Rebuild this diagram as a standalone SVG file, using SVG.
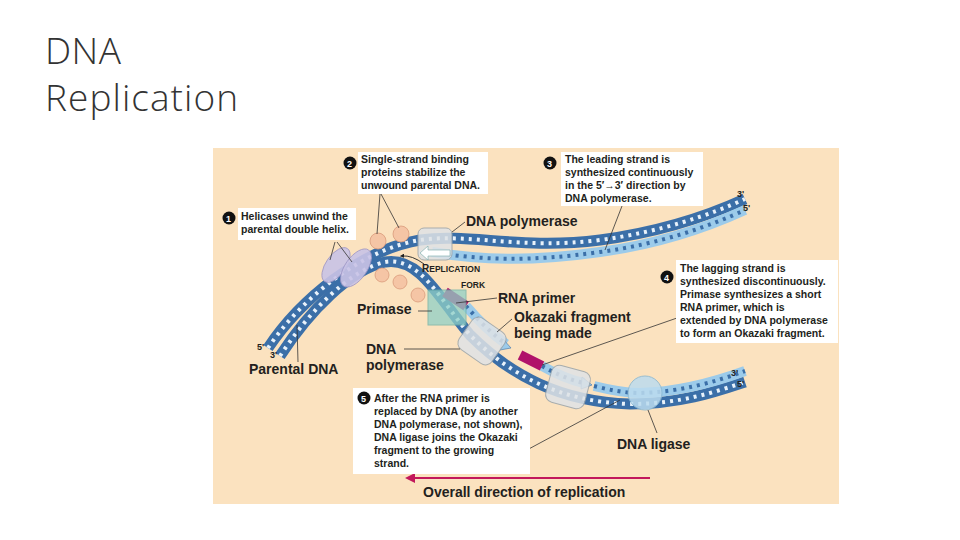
<svg xmlns="http://www.w3.org/2000/svg" width="960" height="540" viewBox="0 0 960 540">
<style>
.t{font-family:"Liberation Sans",Arial,sans-serif;font-weight:bold;fill:#231f20}
.lb{font-size:14px}
.sm{font-size:10.5px}
.tiny{font-size:9px}
.ttl{font-family:"Open Sans","Liberation Sans",sans-serif;font-weight:300;font-size:37px;fill:#333}
.dk{fill:none;stroke:#3b6fa8;stroke-width:11}
.lt{fill:none;stroke:#9ccbea;stroke-width:10}
.rung{fill:none;stroke:#e8f2fb;stroke-width:4;stroke-dasharray:3 5}
.rungd{fill:none;stroke:#3b6fa8;stroke-width:4;stroke-dasharray:3 5}
.ln{stroke:#333;stroke-width:0.8;fill:none}
.box{fill:#fff}
.pol{fill:#dfe3e6;stroke:#9aa4ab;stroke-width:1;opacity:0.85}
.ssb{fill:#f5c5a5;stroke:#d99b7b;stroke-width:0.8}
.hel{fill:#c9c3e6;stroke:#9a93c4;stroke-width:0.8;opacity:0.9}
.pr{fill:none;stroke:#b0126a;stroke-width:10}
.num{fill:#111}
.numt{font-family:"Liberation Sans",Arial,sans-serif;font-weight:bold;font-size:9px;fill:#fff}
</style>
<defs>
<marker id="ah" viewBox="0 0 10 10" refX="5" refY="5" markerWidth="5" markerHeight="5" orient="auto"><path d="M0,0L10,5L0,10z" fill="#c2185b"/></marker>
<marker id="ak" viewBox="0 0 10 10" refX="5" refY="5" markerWidth="5" markerHeight="5" orient="auto"><path d="M0,0L10,5L0,10z" fill="#222"/></marker>
</defs>
<rect width="960" height="540" fill="#fff"/>
<text class="ttl" x="45" y="64" textLength="76">DNA</text>
<text class="ttl" x="45" y="111" textLength="193">Replication</text>
<rect x="213" y="148" width="626" height="356" fill="#fbe2bf"/>

<g id="dna">
<path class="dk" d="M268,348 C300,300 360,250 420,240 C470,233 520,250 600,240 C660,232 710,215 745,199"/>
<path class="rung" d="M268,348 C300,300 360,250 420,240 C470,233 520,250 600,240 C660,232 710,215 745,199"/>
<path class="lt" d="M432,252 C480,260 530,262 600,252 C660,244 710,226 745,210"/>
<path class="rungd" d="M432,252 C480,260 530,262 600,252 C660,244 710,226 745,210"/>
<path class="dk" d="M280,356 C310,310 350,270 385,262 C420,256 440,300 470,335 C510,375 560,402 630,404 C680,404 715,392 745,382"/>
<path class="rung" d="M280,356 C310,310 350,270 385,262 C420,256 440,300 470,335 C510,375 560,402 630,404 C680,404 715,392 745,382"/>
<path class="lt" d="M466,306 C478,320 492,334 506,344"/>
<path class="rungd" d="M466,306 C478,320 492,334 506,344"/>
<path class="lt" d="M542,366 C556,374 570,380 584,383"/>
<path class="rungd" d="M542,366 C556,374 570,380 584,383"/>
<path class="lt" d="M594,386 C610,390 625,393 640,393 C680,392 715,382 745,371"/>
<path class="rungd" d="M594,386 C610,390 625,393 640,393 C680,392 715,382 745,371"/>
<path class="pr" d="M445,292 L466,306"/>
<path class="pr" d="M520,355 L542,366"/>
<path d="M503,339 L511,348 L500,350z" fill="#9ccbea" stroke="#3b6fa8" stroke-width="0.6"/>
<path d="M582,377 L592,385 L581,389z" fill="#9ccbea" stroke="#3b6fa8" stroke-width="0.6"/>
</g>

<g id="proteins">
<ellipse class="hel" cx="336" cy="265" rx="10" ry="20" transform="rotate(35 336 265)"/>
<ellipse class="hel" cx="356" cy="268" rx="11" ry="22" transform="rotate(35 356 268)"/>
<circle class="ssb" cx="378" cy="241" r="8"/>
<circle class="ssb" cx="401" cy="234" r="8"/>
<circle class="ssb" cx="382" cy="275" r="7"/>
<circle class="ssb" cx="400" cy="282" r="7"/>
<circle class="ssb" cx="418" cy="295" r="7"/>
<rect class="pol" x="418" y="228" width="34" height="32" rx="6"/>
<path d="M450,250 L428,250 L428,246 L420,253 L428,260 L428,256 L450,256z" fill="#fff" stroke="#7aa" stroke-width="0.6"/>
<rect x="428" y="290" width="38" height="35" fill="#8fd0c6" opacity="0.75" stroke="#6ab0a6"/>
<rect class="pol" x="462" y="322" width="40" height="38" rx="8" transform="rotate(35 482 341)"/>
<rect class="pol" x="548" y="368" width="40" height="38" rx="8" transform="rotate(15 568 387)"/>
<circle cx="645" cy="393" r="17" fill="#bcdcef" opacity="0.85" stroke="#8bb8d2"/>
</g>

<g id="connectors">
<path class="ln" d="M452,232 L465,222"/>
<path class="ln" d="M456,303 L497,298"/>
<path class="ln" d="M418,311 L432,311"/>
<path class="ln" d="M497,332 L512,319"/>
<path class="ln" d="M404,349 L460,349"/>
<path class="ln" d="M298,362 L297,325"/>
<path class="ln" d="M657,433 L648,410"/>
<path class="ln" d="M335,242 L330,260 M337,242 L352,262"/>
<path class="ln" d="M380,194 L377,234 M381,194 L399,228"/>
<path class="ln" d="M622,206 L605,250"/>
<path class="ln" d="M677,318 L542,365"/>
<path class="ln" d="M525,451 L620,400"/>
<path d="M424,264 Q412,255 402,256" fill="none" stroke="#222" stroke-width="0.9" marker-end="url(#ak)"/>
<path d="M650,478 L410,478" stroke="#c2185b" stroke-width="2" marker-end="url(#ah)"/>
</g>

<g id="labels">
<text class="t lb" x="466" y="226">DNA polymerase</text>
<text class="t" x="422" y="272" font-size="10">R<tspan font-size="8.5">EPLICATION</tspan></text>
<text class="t" x="461" y="288" font-size="8.5">FORK</text>
<text class="t lb" x="498" y="303">RNA primer</text>
<text class="t lb" x="357" y="314">Primase</text>
<text class="t lb" x="514" y="322">Okazaki fragment</text>
<text class="t lb" x="514" y="338">being made</text>
<text class="t lb" x="366" y="354">DNA</text>
<text class="t lb" x="366" y="370">polymerase</text>
<text class="t lb" x="249" y="374">Parental DNA</text>
<text class="t tiny" x="257" y="350">5'</text>
<text class="t tiny" x="270" y="358">3'</text>
<text class="t tiny" x="737" y="197">3'</text>
<text class="t tiny" x="743" y="211">5'</text>
<text class="t tiny" x="731" y="376">3'</text>
<text class="t tiny" x="737" y="387">5'</text>
<text class="t lb" x="617" y="449">DNA ligase</text>
<text class="t lb" x="423" y="497">Overall direction of replication</text>
</g>

<g id="step1">
<rect class="box" x="238" y="208" width="118" height="32"/>
<circle class="num" cx="229" cy="218" r="6.5"/><text class="numt" x="226" y="221.5">1</text>
<text class="t sm" x="241" y="220">Helicases unwind the</text>
<text class="t sm" x="241" y="233">parental double helix.</text>
</g>
<g id="step2">
<rect class="box" x="358" y="152" width="130" height="42"/>
<circle class="num" cx="350" cy="163" r="6.5"/><text class="numt" x="347" y="166.5">2</text>
<text class="t sm" x="361" y="163">Single-strand binding</text>
<text class="t sm" x="361" y="176">proteins stabilize the</text>
<text class="t sm" x="361" y="189">unwound parental DNA.</text>
</g>
<g id="step3">
<rect class="box" x="561" y="152" width="142" height="54"/>
<circle class="num" cx="550" cy="163" r="6.5"/><text class="numt" x="547" y="166.5">3</text>
<text class="t sm" x="565" y="163">The leading strand is</text>
<text class="t sm" x="565" y="176">synthesized continuously</text>
<text class="t sm" x="565" y="189">in the 5′→3′ direction by</text>
<text class="t sm" x="565" y="202">DNA polymerase.</text>
</g>
<g id="step4">
<rect class="box" x="676" y="260" width="162" height="83"/>
<circle class="num" cx="667" cy="277" r="6.5"/><text class="numt" x="664" y="280.5">4</text>
<text class="t sm" x="680" y="272">The lagging strand is</text>
<text class="t sm" x="680" y="285">synthesized discontinuously.</text>
<text class="t sm" x="680" y="298">Primase synthesizes a short</text>
<text class="t sm" x="680" y="311">RNA primer, which is</text>
<text class="t sm" x="680" y="324">extended by DNA polymerase</text>
<text class="t sm" x="680" y="337">to form an Okazaki fragment.</text>
</g>
<g id="step5">
<rect class="box" x="353" y="388" width="177" height="86"/>
<circle class="num" cx="364" cy="398" r="6.5"/><text class="numt" x="361" y="401.5">5</text>
<text class="t sm" x="374" y="402">After the RNA primer is</text>
<text class="t sm" x="374" y="415">replaced by DNA (by another</text>
<text class="t sm" x="374" y="428">DNA polymerase, not shown),</text>
<text class="t sm" x="374" y="441">DNA ligase joins the Okazaki</text>
<text class="t sm" x="374" y="454">fragment to the growing</text>
<text class="t sm" x="374" y="467">strand.</text>
</g>
</svg>
